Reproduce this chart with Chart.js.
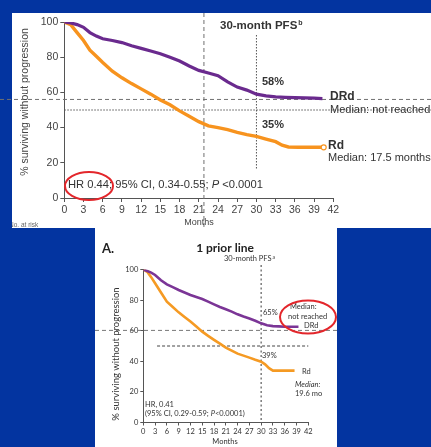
<!DOCTYPE html>
<html>
<head>
<meta charset="utf-8">
<script src="https://cdn.jsdelivr.net/npm/chart.js@4.4.1/dist/chart.umd.min.js"></script>
<style>
  html, body { margin: 0; padding: 0; }
  body { width: 431px; height: 447px; background: #0334a0; position: relative; overflow: hidden; }
  .panel { position: absolute; background: #fff; }
  #panelTop { left: 12px; top: 13px; width: 419px; height: 215px; }
  #panelBottom { left: 95px; top: 228px; width: 242px; height: 219px; }
  canvas { position: absolute; left: 0; }
  #chartTop { top: 0; }
  #chartBottom { top: 228px; }
</style>
</head>
<body>
<div class="panel" id="panelTop"></div>
<div class="panel" id="panelBottom"></div>
<canvas id="chartTop" width="431" height="230"></canvas>
<canvas id="chartBottom" width="431" height="219"></canvas>
<script>
// all patients (top panel)
const topMonthsDRd = [0, 1, 2, 3, 4, 5, 6, 7.5, 9, 10.5, 12, 13.5, 15, 16.5, 18, 19.5, 21, 22.5, 24, 25.5, 27, 28.5, 30, 31.5, 33, 34.5, 36, 37.5, 39, 40.3];
const topDRd = [100, 99.5, 98.5, 97, 94, 92, 90.5, 89.5, 88.3, 86.5, 85, 83.5, 82, 80, 77.8, 75, 72.5, 71, 69.5, 66, 63, 61.3, 59, 58, 57.5, 57.2, 57, 56.9, 56.7, 56.5];
const topMonthsRd = [0, 1, 2, 3, 4, 5, 6, 7.5, 9, 10.5, 12, 13.5, 15, 16.5, 18, 19.5, 21, 22.5, 24, 25.5, 27, 28.5, 30, 31.5, 33, 34, 35, 36.5, 38, 40.5];
const topRd = [100, 98.5, 94, 89.5, 84, 80.5, 77, 72, 68.3, 65, 62, 59, 55.7, 53, 49.5, 46.5, 43.4, 41, 40, 38.8, 37.3, 36, 35, 33.5, 32, 30, 29, 28.8, 28.8, 28.8];

// 1 prior line (bottom panel)
const botMonthsDRd = [0, 1, 2, 3, 4.5, 6, 7.5, 9, 10.5, 12, 13.5, 15, 16.5, 18, 19.5, 21, 22.5, 24, 25.5, 27, 28.5, 30, 31.5, 33, 34.5, 36, 37.5, 39.5];
const botDRd = [100, 99, 98, 96.4, 93, 90.3, 88.5, 86.6, 85, 83.3, 82, 80.7, 79, 77.2, 75.5, 74, 72.5, 70.7, 69.3, 68, 66.5, 64.8, 63.5, 63, 62.8, 62.6, 62.6, 62.6];
const botMonthsRd = [0, 1, 2, 3, 4.5, 6, 7.5, 9, 10.5, 12, 13.5, 15, 16.5, 18, 19.5, 21, 22.5, 24, 25.5, 27, 28.5, 30, 31, 32, 33, 35, 37, 38.5];
const botRd = [100, 98.5, 95, 91, 85, 79, 75.5, 72, 69, 66, 62.7, 59.4, 56.6, 54, 51.5, 49, 47, 45, 43.7, 42.4, 41, 39.7, 38, 35.5, 33.9, 33.9, 33.9, 33.9];

const yTicks = [0, 20, 40, 60, 80, 100];
const xTicks = [0, 3, 6, 9, 12, 15, 18, 21, 24, 27, 30, 33, 36, 39, 42];

const TOPF = "'Liberation Sans', Arial, sans-serif";
const BOTF = "Lato, 'Open Sans', sans-serif";

function pts(xs, ys) { return xs.map((m, i) => ({ x: m, y: ys[i] })); }

function line(ctx, x1, y1, x2, y2, dash, color, w) {
  ctx.beginPath();
  ctx.setLineDash(dash);
  ctx.strokeStyle = color;
  ctx.lineWidth = w || 1;
  ctx.moveTo(x1, y1);
  ctx.lineTo(x2, y2);
  ctx.stroke();
  ctx.setLineDash([]);
}

function txt(ctx, s, x, y, font, color, align) {
  ctx.font = font;
  ctx.fillStyle = color || '#333';
  ctx.textAlign = align || 'left';
  ctx.textBaseline = 'middle';
  ctx.fillText(s, x, y);
  return ctx.measureText(s).width;
}

function ellipse(ctx, cx, cy, rx, ry) {
  ctx.beginPath();
  ctx.setLineDash([]);
  ctx.strokeStyle = '#e3262b';
  ctx.lineWidth = 2;
  ctx.ellipse(cx, cy, rx, ry, 0, 0, Math.PI * 2);
  ctx.stroke();
}

function axes(font, size, tl, tickColor, yW, xH) {
  return {
    x: {
      type: 'linear', min: 0, max: 42,
      afterBuildTicks: s => { s.ticks = xTicks.map(v => ({ value: v })); },
      afterFit: s => { s.height = xH; },
      grid: { drawOnChartArea: false, drawTicks: true, tickLength: tl, color: '#555' },
      border: { color: '#555', width: 1 },
      ticks: { autoSkip: false, maxRotation: 0, padding: 2, color: tickColor, font: { family: font, size: size } }
    },
    y: {
      min: 0, max: 100,
      afterBuildTicks: s => { s.ticks = yTicks.map(v => ({ value: v })); },
      afterFit: s => { s.width = yW; },
      grid: { drawOnChartArea: false, drawTicks: true, tickLength: tl, color: '#555' },
      border: { color: '#555', width: 1 },
      ticks: { padding: 2, color: tickColor, font: { family: font, size: size } }
    }
  };
}

const topOverlay = {
  id: 'topOverlay',
  beforeDatasetsDraw(chart) {
    const { ctx, scales: { x, y }, chartArea } = chart;
    ctx.save();
    line(ctx, 0, y.getPixelForValue(56), 431, y.getPixelForValue(56), [4, 3], '#707070');
    line(ctx, chartArea.left, y.getPixelForValue(50), 431, y.getPixelForValue(50), [1.5, 1.5], '#555');
    line(ctx, x.getPixelForValue(21.8), 13, x.getPixelForValue(21.8), 228, [4, 3], '#707070');
    line(ctx, x.getPixelForValue(30), 35, x.getPixelForValue(30), 169, [1.5, 1.5], '#555');
    ctx.restore();
  },
  afterDraw(chart) {
    const { ctx } = chart;
    ctx.save();
    let w = txt(ctx, '30-month PFS', 220, 26, 'bold 11.5px ' + TOPF, '#333');
    txt(ctx, 'b', 221 + w, 23, 'bold 7px ' + TOPF, '#333');
    txt(ctx, '58%', 262, 82, 'bold 11px ' + TOPF, '#333');
    txt(ctx, '35%', 262, 125, 'bold 11px ' + TOPF, '#333');
    txt(ctx, 'DRd', 330, 97, 'bold 12px ' + TOPF, '#333');
    txt(ctx, 'Median: not reached', 330, 110, '11px ' + TOPF, '#333');
    txt(ctx, 'Rd', 328, 146, 'bold 12px ' + TOPF, '#333');
    txt(ctx, 'Median: 17.5 months', 328, 157.5, '11px ' + TOPF, '#333');
    w = txt(ctx, 'HR 0.44; 95% CI, 0.34-0.55; ', 68, 185, '11.2px ' + TOPF, '#333');
    let w2 = txt(ctx, 'P', 68 + w, 185, 'italic 11.2px ' + TOPF, '#333');
    txt(ctx, ' <0.0001', 68 + w + w2, 185, '11.2px ' + TOPF, '#333');
    ellipse(ctx, 89, 186, 24, 14);
    txt(ctx, 'Months', 199, 223, '9px ' + TOPF, '#444', 'center');
    ctx.save();
    ctx.translate(25, 102);
    ctx.rotate(-Math.PI / 2);
    txt(ctx, '% surviving without progression', 0, 0, '10.5px ' + TOPF, '#444', 'center');
    ctx.restore();
    ctx.beginPath();
    ctx.rect(12, 13, 419, 215);
    ctx.clip();
    txt(ctx, 'No. at risk', 9, 225, '6.5px ' + TOPF, '#666');
    ctx.restore();
  }
};

const bottomOverlay = {
  id: 'bottomOverlay',
  beforeDatasetsDraw(chart) {
    const { ctx, scales: { x, y } } = chart;
    ctx.save();
    line(ctx, 95, y.getPixelForValue(60.2), 337, y.getPixelForValue(60.2), [4, 3], '#777');
    line(ctx, x.getPixelForValue(3.5), y.getPixelForValue(50), x.getPixelForValue(42), y.getPixelForValue(50), [3, 2], '#444');
    line(ctx, x.getPixelForValue(30), 37, x.getPixelForValue(30), 195, [2, 2.5], '#666', 1.3);
    ctx.restore();
  },
  afterDraw(chart) {
    const { ctx } = chart;
    ctx.save();
    txt(ctx, 'A.', 102, 21, 'bold 13px ' + BOTF, '#222');
    txt(ctx, '1 prior line', 225, 20, 'bold 12px ' + BOTF, '#222', 'center');
    let w = txt(ctx, '30-month PFS', 224, 31, '7.5px ' + BOTF, '#333');
    txt(ctx, 'a', 225 + w, 29, '5px ' + BOTF, '#333');
    txt(ctx, '65%', 263, 85, '7.5px ' + BOTF, '#333');
    txt(ctx, 'Median:', 290, 78.5, '7.5px ' + BOTF, '#333');
    txt(ctx, 'not reached', 288, 88.5, '7.5px ' + BOTF, '#333');
    txt(ctx, 'DRd', 304, 97.5, '7.5px ' + BOTF, '#333');
    ellipse(ctx, 308, 89, 28, 16.5);
    txt(ctx, '39%', 262, 128, '7.5px ' + BOTF, '#333');
    txt(ctx, 'Rd', 302, 143.5, '7.5px ' + BOTF, '#333');
    txt(ctx, 'Median:', 295, 157, 'italic 7.5px ' + BOTF, '#333');
    txt(ctx, '19.6 mo', 295, 166, '7.5px ' + BOTF, '#333');
    txt(ctx, 'HR, 0.41', 145, 177, '7.5px ' + BOTF, '#333');
    w = txt(ctx, '(95% CI, 0.29-0.59; ', 145, 186, '7.5px ' + BOTF, '#333');
    let w2 = txt(ctx, 'P', 145 + w, 186, 'italic 7.5px ' + BOTF, '#333');
    txt(ctx, '<0.0001)', 145 + w + w2, 186, '7.5px ' + BOTF, '#333');
    txt(ctx, 'Months', 225, 213.5, '7.5px ' + BOTF, '#333', 'center');
    ctx.translate(116, 126);
    ctx.rotate(-Math.PI / 2);
    txt(ctx, '% surviving without progression', 0, 0, '9.5px ' + BOTF, '#333', 'center');
    ctx.restore();
  }
};

function endMark(color) {
  return {
    pointRadius: c => (c.dataIndex === c.dataset.data.length - 1 ? 2.5 : 0),
    pointBackgroundColor: '#fff',
    pointBorderColor: color,
    pointBorderWidth: 1.2
  };
}

new Chart(document.getElementById('chartTop'), {
  type: 'line',
  data: {
    datasets: [
      Object.assign({ label: 'DRd', data: pts(topMonthsDRd, topDRd), borderColor: '#6a2a8e', borderWidth: 3.2, pointRadius: 0, tension: 0 }),
      Object.assign({ label: 'Rd', data: pts(topMonthsRd, topRd), borderColor: '#f7931e', borderWidth: 3.4, tension: 0 }, endMark('#f7931e'))
    ]
  },
  options: {
    responsive: false,
    animation: false,
    layout: { padding: { left: 14, right: 97.7, top: 22, bottom: 0 } },
    plugins: { legend: { display: false }, tooltip: { enabled: false } },
    scales: axes(TOPF, 10.5, 4, '#444', 50.3, 32)
  },
  plugins: [topOverlay]
});

new Chart(document.getElementById('chartBottom'), {
  type: 'line',
  data: {
    datasets: [
      { label: 'DRd', data: pts(botMonthsDRd, botDRd), borderColor: '#7b3596', borderWidth: 2.6, pointRadius: 0, tension: 0 },
      { label: 'Rd', data: pts(botMonthsRd, botRd), borderColor: '#f59a23', borderWidth: 2.6, pointRadius: 0, tension: 0 }
    ]
  },
  options: {
    responsive: false,
    animation: false,
    layout: { padding: { left: 100, right: 122.7, top: 41.5, bottom: 0 } },
    plugins: { legend: { display: false }, tooltip: { enabled: false } },
    scales: axes(BOTF, 7.5, 3, '#333', 43.3, 24.5)
  },
  plugins: [bottomOverlay]
});
</script>
</body>
</html>
